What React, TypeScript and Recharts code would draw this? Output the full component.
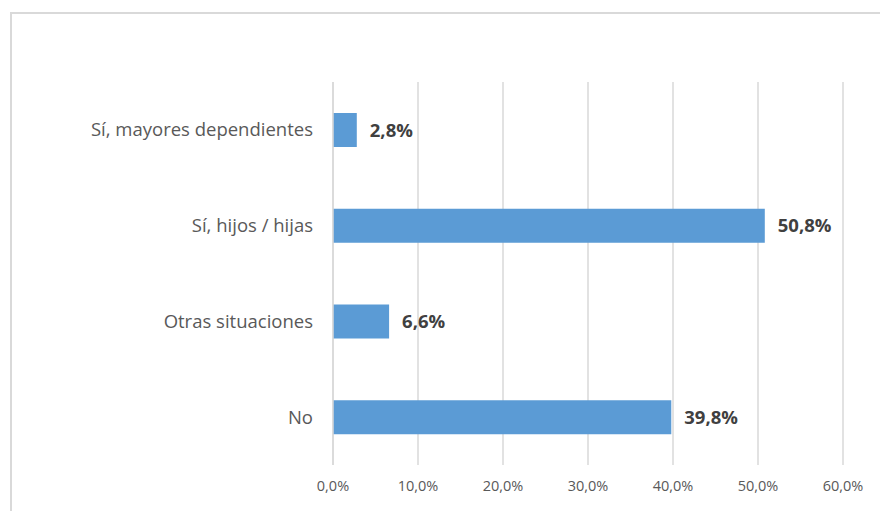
import { Bar, BarChart, CartesianGrid, LabelList, XAxis, YAxis } from 'recharts';

const categories = ['Sí, mayores dependientes', 'Sí, hijos / hijas', 'Otras situaciones', 'No'];
const values = [2.8, 50.8, 6.6, 39.8];
const xTicks = [0, 10, 20, 30, 40, 50, 60];

const data = categories.map((name, i) => ({ name, value: values[i] }));

const pct = (v: number) => v.toFixed(1).replace('.', ',') + '%';

const FONT = '"Open Sans", sans-serif';

export default function App() {
  return (
    <div
      style={{
        position: 'absolute',
        left: 0,
        top: 0,
        width: 880,
        height: 511,
        overflow: 'hidden',
        background: '#fff'
      }}
    >
      <div
        style={{
          position: 'absolute',
          left: 10,
          top: 12,
          width: 900,
          height: 540,
          border: '2px solid #d9d9d9',
          boxSizing: 'border-box'
        }}
      />
      <div style={{ position: 'absolute', left: 0, top: 0 }}>
        <BarChart
          width={880}
          height={511}
          data={data}
          layout="vertical"
          margin={{ top: 82, right: 37, bottom: 16, left: 0 }}
          style={{ fontFamily: FONT }}
        >
          <CartesianGrid horizontal={false} stroke="#d9d9d9" strokeWidth={1.5} />
          <XAxis
            type="number"
            domain={[0, 60]}
            ticks={xTicks}
            tickFormatter={pct}
            axisLine={false}
            tickLine={false}
            tickSize={0}
            tickMargin={16}
            height={30}
            tick={{ fill: '#595959', fontSize: 14.5 }}
          />
          <YAxis
            type="category"
            dataKey="name"
            width={333}
            axisLine={{ stroke: '#d9d9d9', strokeWidth: 1.5 }}
            tickLine={false}
            tickSize={0}
            tickMargin={20}
            tick={{ fill: '#595959', fontSize: 18.5 }}
          />
          <Bar dataKey="value" fill="#5b9bd5" barSize={34} isAnimationActive={false}>
            <LabelList
              dataKey="value"
              position="right"
              offset={13}
              formatter={(v: number) => pct(v)}
              style={{ fill: '#404040', fontWeight: 'bold', fontSize: 18.5 }}
            />
          </Bar>
        </BarChart>
      </div>
    </div>
  );
}
